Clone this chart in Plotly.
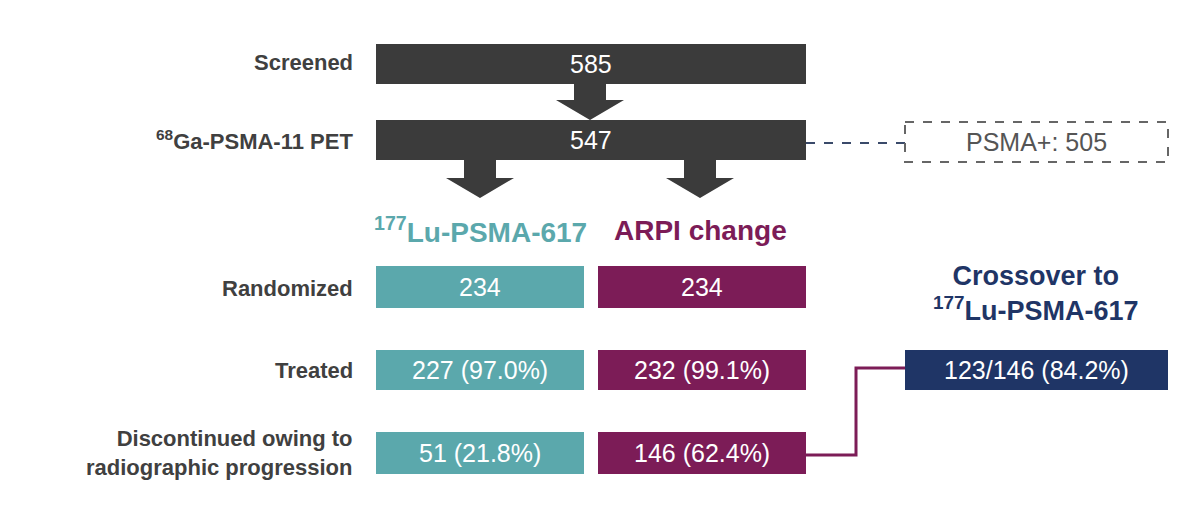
import plotly.graph_objects as go

# data
stage_labels = ["Screened", "<sup>68</sup>Ga-PSMA-11 PET", "Randomized", "Treated",
                "Discontinued owing to<br>radiographic progression"]
top_values = ["585", "547"]
lu_values = ["234", "227 (97.0%)", "51 (21.8%)"]
arpi_values = ["234", "232 (99.1%)", "146 (62.4%)"]
psma_pos = "PSMA+: 505"
crossover = "123/146 (84.2%)"
arm_names = ["<sup>177</sup>Lu-PSMA-617", "ARPI change"]
crossover_title = "Crossover to<br><sup>177</sup>Lu-PSMA-617"

GRAY = "#3b3b3b"; TEAL = "#5ba8ac"; PURPLE = "#7c1c57"; NAVY = "#1f3566"
FONT = "Liberation Sans, Arial, sans-serif"

fig = go.Figure()
shapes = []; ann = []

def box(x0, y0, x1, y1, color, text, tcolor="white", dash=None):
    if dash:
        shapes.append(dict(type="rect", x0=x0, y0=y0, x1=x1, y1=y1,
                           line=dict(color="#666", width=2, dash="dash"), fillcolor="white"))
    else:
        shapes.append(dict(type="rect", x0=x0, y0=y0, x1=x1, y1=y1,
                           line=dict(width=0), fillcolor=color))
    ann.append(dict(x=(x0+x1)/2, y=(y0+y1)/2, text=text, showarrow=False,
                    font=dict(color=tcolor, size=25, family=FONT)))

def arrow(cx, y0, y1):
    sw, hw, hh = 16, 34, 20
    p = (f"M{cx-sw},{y0} L{cx+sw},{y0} L{cx+sw},{y1-hh} L{cx+hw},{y1-hh} "
         f"L{cx},{y1} L{cx-hw},{y1-hh} L{cx-sw},{y1-hh} Z")
    shapes.append(dict(type="path", path=p, fillcolor=GRAY, line=dict(width=0)))

box(376, 44, 806, 84, GRAY, top_values[0])
arrow(590, 80, 120)
box(376, 120, 806, 160, GRAY, top_values[1])
arrow(480, 158, 198)
arrow(700, 158, 198)
shapes.append(dict(type="line", x0=806, y0=143, x1=905, y1=143,
                   line=dict(color="#3a4a6a", width=2, dash="dash")))
box(905, 122, 1168, 162, None, psma_pos, tcolor="#555", dash=True)

rows = [(266, 308), (350, 390), (432, 474)]
for (y0, y1), lv, av in zip(rows, lu_values, arpi_values):
    box(376, y0, 584, y1, TEAL, lv)
    box(598, y0, 806, y1, PURPLE, av)

box(905, 350, 1168, 390, NAVY, crossover)
shapes.append(dict(type="path", path="M806,455 L856,455 L856,368 L905,368",
                   line=dict(color=PURPLE, width=3)))

label_y = [62, 140, 288, 370, 453]
for t, y in zip(stage_labels, label_y):
    ann.append(dict(x=355, y=y, text="<b>"+t+"</b>", showarrow=False, xanchor="right",
                    align="right", font=dict(color="#404040", size=22, family=FONT)))

ann.append(dict(x=480, y=230, text="<b>"+arm_names[0]+"</b>", showarrow=False,
                font=dict(color=TEAL, size=28, family=FONT)))
ann.append(dict(x=700, y=230, text="<b>"+arm_names[1]+"</b>", showarrow=False,
                font=dict(color=PURPLE, size=28, family=FONT)))
ann.append(dict(x=1036, y=293, text="<b>"+crossover_title+"</b>", showarrow=False,
                font=dict(color=NAVY, size=27, family=FONT)))

fig.update_layout(width=1200, height=523, margin=dict(l=0, r=0, t=0, b=0),
                  paper_bgcolor="white", plot_bgcolor="white",
                  shapes=shapes, annotations=ann, showlegend=False,
                  xaxis=dict(range=[8, 1208], visible=False, fixedrange=True),
                  yaxis=dict(range=[531, 8], visible=False, fixedrange=True))
fig.write_html("out.html", config={"displayModeBar": False})
